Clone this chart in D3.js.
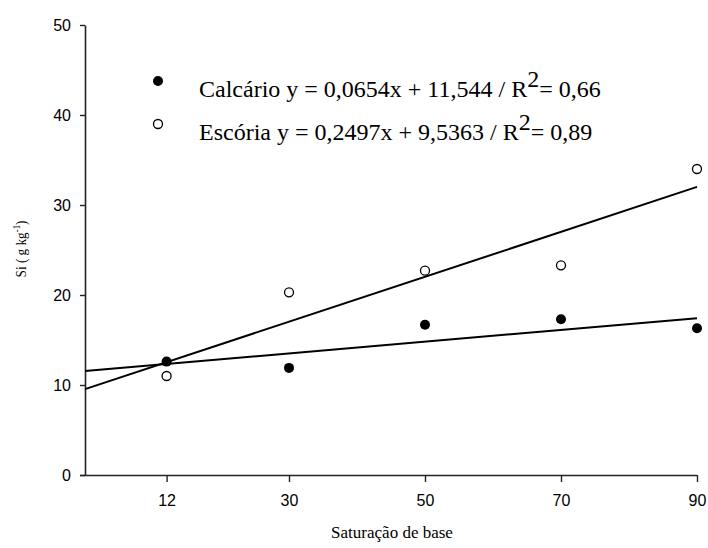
<!DOCTYPE html>
<html>
<head>
<meta charset="utf-8">
<script src="https://cdn.jsdelivr.net/npm/d3@7"></script>
<style>
  html, body { margin: 0; padding: 0; background: #fff; }
  svg { display: block; }
</style>
</head>
<body>
<svg id="chart" width="708" height="548"></svg>
<script>
// Base saturation levels (%)
const saturacao = [12, 30, 50, 70, 90];
// Si contents (g kg-1) for each corrective
const calcario = [12.6, 11.9, 16.7, 17.3, 16.3];
const escoria  = [11.0, 20.3, 22.7, 23.3, 34.0];
// Fitted linear regressions
const fitCalcario = { a: 0.0654, b: 11.544 };
const fitEscoria  = { a: 0.2497, b: 9.5363 };
const xTicks = [12, 30, 50, 70, 90];
const yTicks = [0, 10, 20, 30, 40, 50];

const svg = d3.select("#chart");
const x = d3.scaleLinear().domain([0, 90]).range([85, 697]);
const y = d3.scaleLinear().domain([0, 50]).range([475, 25]);

// Axes
const yAxis = svg.append("g").attr("transform", "translate(85,0)")
  .call(d3.axisLeft(y).tickValues(yTicks).tickSize(5).tickPadding(9).tickSizeOuter(0));
const xAxis = svg.append("g").attr("transform", "translate(0,475)")
  .call(d3.axisBottom(x).tickValues(xTicks).tickSize(7).tickPadding(13).tickSizeOuter(0));
[yAxis, xAxis].forEach(g => {
  g.select(".domain").attr("stroke", "#222").attr("stroke-width", 1.6);
  g.selectAll(".tick line").attr("stroke", "#222").attr("stroke-width", 1.4);
  g.selectAll(".tick text").attr("fill", "#000")
    .style("font-family", "'Liberation Sans', Arial, sans-serif").style("font-size", "16px");
});
// x axis line runs left to the end of the y ticks
xAxis.select(".domain").attr("d", `M${80},0.5H${x(90)}`);

// Regression lines over the full range
const line = d3.line().x(d => x(d[0])).y(d => y(d[1]));
[fitCalcario, fitEscoria].forEach(f => {
  svg.append("path")
    .attr("d", line([0, 90].map(v => [v, f.a * v + f.b])))
    .attr("fill", "none").attr("stroke", "#000").attr("stroke-width", 2);
});

// Points
svg.append("g").selectAll("circle").data(saturacao.map((s, i) => [s, calcario[i]]))
  .join("circle").attr("cx", d => x(d[0])).attr("cy", d => y(d[1])).attr("r", 5)
  .attr("fill", "#000");
svg.append("g").selectAll("circle").data(saturacao.map((s, i) => [s, escoria[i]]))
  .join("circle").attr("cx", d => x(d[0])).attr("cy", d => y(d[1])).attr("r", 4.5)
  .attr("fill", "#fff").attr("stroke", "#000").attr("stroke-width", 1.3);

// Legend
const serif = "'Liberation Serif', 'Times New Roman', serif";
const legend = [
  { filled: true,  label: "Calcário y = 0,0654x + 11,544 / R", r2: "0,66", y: 97 },
  { filled: false, label: "Escória y = 0,2497x + 9,5363 / R",  r2: "0,89", y: 140 }
];
legend.forEach(l => {
  svg.append("circle").attr("cx", 158).attr("cy", l.y - 16).attr("r", l.filled ? 5 : 4.5)
    .attr("fill", l.filled ? "#000" : "#fff").attr("stroke", "#000")
    .attr("stroke-width", l.filled ? 0 : 1.3);
  const t = svg.append("text").attr("x", 199).attr("y", l.y)
    .style("font-family", serif).style("font-size", "24px").attr("fill", "#000");
  t.append("tspan").text(l.label);
  t.append("tspan").attr("dy", -10).text("2");
  t.append("tspan").attr("dy", 10).attr("dx", 0).text("= " + l.r2);
});

// Axis titles
svg.append("text").attr("x", 392).attr("y", 538).attr("text-anchor", "middle")
  .style("font-family", serif).style("font-size", "17px").text("Saturação de base");
const yl = svg.append("text").attr("text-anchor", "middle")
  .style("font-family", serif).style("font-size", "15px");
yl.append("tspan").text("Si ( g kg");
yl.append("tspan").attr("dy", -6).style("font-size", "10px").text("-1");
yl.append("tspan").attr("dy", 6).text(")");
// condensed along its reading direction to a 57px run
const ylLen = yl.node().getComputedTextLength();
yl.attr("transform", `translate(26,249) rotate(-90) scale(${57 / ylLen},1)`);
</script>
</body>
</html>
